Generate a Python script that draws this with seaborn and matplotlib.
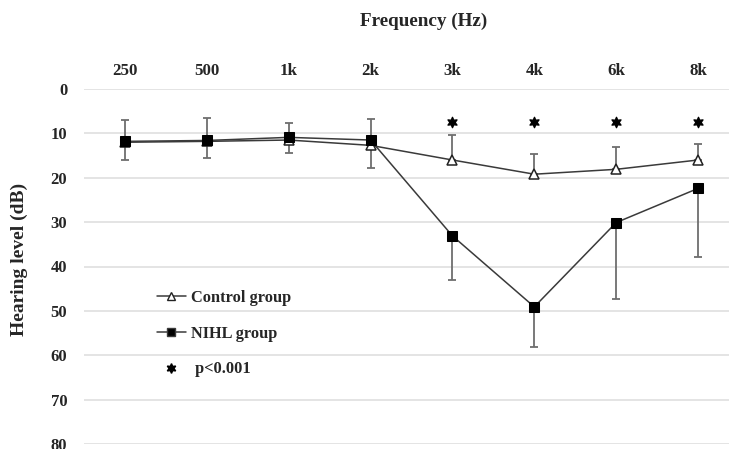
#!/usr/bin/env python3
"""Mean hearing thresholds by frequency, control vs NIHL group."""

import numpy as np
import pandas as pd
import matplotlib
matplotlib.use("Agg")
import matplotlib.pyplot as plt
from matplotlib.lines import Line2D
import seaborn as sns

# Data
freq_labels = ["250", "500", "1k", "2k", "3k", "4k", "6k", "8k"]
control_mean = [12.0, 11.8, 11.5, 12.7, 16.0, 19.2, 18.1, 16.0]
control_sd = [5.0, 5.2, 3.9, 5.9, 5.6, 4.6, 5.1, 3.5]
nihl_mean = [11.8, 11.6, 10.9, 11.5, 33.1, 49.1, 30.1, 22.4]
nihl_sd = [4.2, 3.9, 3.6, 6.3, 9.9, 9.1, 17.3, 15.4]
sig_labels = ["3k", "4k", "6k", "8k"]
sig_level = [7.5, 7.5, 7.5, 7.5]

sns.set_style("whitegrid")
plt.rcParams['font.family'] = ['Liberation Serif', 'DejaVu Serif']
plt.rcParams['font.weight'] = 'bold'

pos = np.arange(len(freq_labels))
df = pd.DataFrame({
    "pos": np.concatenate([pos, pos]),
    "level": control_mean + nihl_mean,
    "group": ["Control group"] * len(pos) + ["NIHL group"] * len(pos),
})

fig = plt.figure(figsize=(7.29, 4.49), dpi=100)
ax = fig.add_axes([84 / 729, 5 / 449, 655 / 729, 355 / 449])

# one-sided error bars: control upward, NIHL downward (y axis inverted)
zeros = np.zeros(len(pos))
ax.errorbar(pos, control_mean, yerr=[control_sd, zeros], fmt='none',
            ecolor='#6e6e6e', elinewidth=1.3, capsize=3, capthick=1.3, zorder=2)
ax.errorbar(pos, nihl_mean, yerr=[zeros, nihl_sd], fmt='none',
            ecolor='#6e6e6e', elinewidth=1.3, capsize=3, capthick=1.3, zorder=2)

sns.lineplot(data=df[df.group == "Control group"], x="pos", y="level", ax=ax,
             color='#3a3a3a', linewidth=1.1, marker='^', markersize=7,
             markerfacecolor='white', markeredgecolor='#222222',
             markeredgewidth=1.1, zorder=3, legend=False)
sns.lineplot(data=df[df.group == "NIHL group"], x="pos", y="level", ax=ax,
             color='#3a3a3a', linewidth=1.1, marker='s', markersize=6.5,
             markerfacecolor='black', markeredgecolor='black', zorder=4,
             legend=False)

sig_pos = [freq_labels.index(f) for f in sig_labels]
ax.scatter(sig_pos, sig_level, marker=(6, 1, 0), s=55, color='black', zorder=5)

ax.set_xlim(-0.5, 7.5)
ax.set_ylim(80, 0)
ax.set_yticks(np.arange(0, 81, 10))
ax.set_xticks(pos)
ax.set_xticklabels(freq_labels)
ax.xaxis.tick_top()
ax.tick_params(axis='x', length=0, pad=7, labelsize=12.2)
ax.tick_params(axis='y', length=0, pad=12, labelsize=12)
for lbl in ax.get_xticklabels() + ax.get_yticklabels():
    lbl.set_fontweight('bold')
ax.grid(axis='x', visible=False)
ax.grid(axis='y', color='#dcdcdc', linewidth=1.1)
for s in ax.spines.values():
    s.set_visible(False)
ax.set_xlabel("")
ax.set_ylabel("Hearing level (dB)", fontsize=14, fontweight='bold')
ax.yaxis.set_label_coords(-0.0855, 0.52)

fig.text(424 / 729, 1 - 21 / 449, "Frequency (Hz)", ha='center', va='center',
         fontsize=13.8, fontweight='bold')

handles = [
    Line2D([], [], color='#3a3a3a', lw=1.1, marker='^', markersize=6,
           markerfacecolor='white', markeredgecolor='#222222'),
    Line2D([], [], color='#3a3a3a', lw=1.1, marker='s', markersize=5.5,
           markerfacecolor='black'),
    Line2D([], [], lw=0, marker=(6, 1, 0), markersize=7, color='black'),
]
ax.legend(handles, ["Control group", "NIHL group", " p<0.001"],
          loc='upper left', bbox_to_anchor=(0.099, 0.457), frameon=False,
          prop={'family': 'Liberation Serif', 'weight': 'bold', 'size': 11.8},
          handlelength=1.75, handletextpad=0.3, labelspacing=1.2, borderpad=0)

fig.savefig("out.png", dpi=100)
